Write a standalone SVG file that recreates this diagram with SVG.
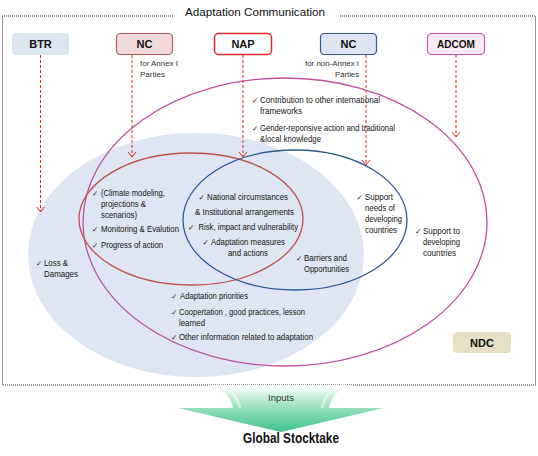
<svg xmlns="http://www.w3.org/2000/svg" width="538" height="456" viewBox="0 0 538 456">
<style>
.t{font-family:"Liberation Sans",Arial,sans-serif;font-size:9px;fill:#151515}
.s{font-family:"Liberation Sans",Arial,sans-serif;font-size:8px;fill:#333}
.ck{font-family:"DejaVu Sans",sans-serif;font-size:7.5px;fill:#222}
.lb{font-family:"Liberation Sans",Arial,sans-serif;font-size:11px;font-weight:bold;fill:#111;text-anchor:middle}
.dash{fill:none;stroke:#e3262b;stroke-width:1;stroke-dasharray:3 2;marker-end:url(#ah)}
</style>
<defs>
<marker id="ah" markerUnits="userSpaceOnUse" markerWidth="10" markerHeight="10" refX="5" refY="0" viewBox="-1 -5 7 10" orient="auto">
<path d="M0,-4 L5,0 L0,4" fill="none" stroke="#e3262b" stroke-width="1"/>
</marker>
<linearGradient id="gr" x1="0" y1="385" x2="0" y2="432" gradientUnits="userSpaceOnUse">
<stop offset="0" stop-color="#ffffff"/>
<stop offset="0.45" stop-color="#9fe0c0"/>
<stop offset="1" stop-color="#3cc389"/>
</linearGradient>
</defs>
<rect width="538" height="456" fill="#fff"/>

<g id="frame">
<path d="M173,16 L2.5,16 L2.5,385 L535.5,385 L535.5,16 L340,16" fill="none" stroke="#333" stroke-width="1" stroke-dasharray="1 1"/>
<text x="185" y="16" style="font-family:'Liberation Sans',Arial,sans-serif;font-size:11.5px;fill:#111" textLength="140" lengthAdjust="spacingAndGlyphs">Adaptation Communication</text>
</g>

<g id="regions">
<ellipse id="adaptation-area" cx="196" cy="255" rx="168" ry="122" fill="#dde6f2"/>
<ellipse id="ndc-ellipse" cx="285" cy="222" rx="202" ry="144" fill="none" stroke="#c0509b" stroke-width="1.3"/>
<ellipse id="nc1-ellipse" cx="191" cy="219" rx="112" ry="66" fill="none" stroke="#c0504d" stroke-width="1.3"/>
<ellipse id="nc2-ellipse" cx="295" cy="220" rx="112" ry="70" fill="none" stroke="#2e5a94" stroke-width="1.3"/>
</g>

<g id="connectors">
<path class="dash" d="M40.5,55 L40.5,212"/>
<path class="dash" d="M132,55 L132,157"/>
<path class="dash" d="M243,55 L243,157"/>
<path class="dash" d="M366,55 L366,165"/>
<path class="dash" d="M456,55 L456,137"/>
</g>

<g id="btr">
<rect x="12" y="33" width="57" height="22" rx="4" fill="#dce6f2"/>
<text class="lb" x="40.5" y="48">BTR</text>
</g>
<g id="nc-annex1">
<rect x="116.5" y="33.5" width="56" height="21" rx="4" fill="#f2dcdb" stroke="#b65a57" stroke-width="1.2"/>
<text class="lb" x="144.5" y="48">NC</text>
<text class="s" x="140" y="66" textLength="38" lengthAdjust="spacingAndGlyphs">for Annex I</text>
<text class="s" x="140" y="77" textLength="25" lengthAdjust="spacingAndGlyphs">Parties</text>
</g>
<g id="nap">
<rect x="214.5" y="33.5" width="57" height="21" rx="4" fill="#fff" stroke="#e0282a" stroke-width="1.5"/>
<text class="lb" x="243" y="48">NAP</text>
</g>
<g id="nc-nonannex1">
<rect x="320.5" y="33.5" width="56" height="21" rx="4" fill="#dce6f2" stroke="#2e5a94" stroke-width="1.2"/>
<text class="lb" x="348.5" y="48">NC</text>
<text class="s" x="359" y="66" text-anchor="end" textLength="54" lengthAdjust="spacingAndGlyphs">for non-Annex I</text>
<text class="s" x="359" y="77" text-anchor="end" textLength="24" lengthAdjust="spacingAndGlyphs">Parties</text>
</g>
<g id="adcom">
<rect x="427.5" y="33.5" width="57" height="21" rx="4" fill="#fbeaf6" stroke="#c35aa5" stroke-width="1.2"/>
<text class="lb" x="456" y="48" textLength="38" lengthAdjust="spacingAndGlyphs">ADCOM</text>
</g>
<g id="ndc">
<rect x="453" y="332" width="58" height="21" rx="4" fill="#e6dfc6"/>
<text class="lb" x="482" y="347">NDC</text>
</g>

<g id="ndc-items">
<text class="ck" x="252" y="103">✓</text>
<text class="t" x="260" y="103" textLength="120" lengthAdjust="spacingAndGlyphs">Contribution to other international</text>
<text class="t" x="260" y="114" textLength="42" lengthAdjust="spacingAndGlyphs">frameworks</text>
<text class="ck" x="252" y="131">✓</text>
<text class="t" x="260" y="131" textLength="135" lengthAdjust="spacingAndGlyphs">Gender-reponsive action and traditional</text>
<text class="t" x="260" y="142" textLength="61" lengthAdjust="spacingAndGlyphs">&amp;local knowledge</text>
<text class="ck" x="415" y="234">✓</text>
<text class="t" x="423" y="234" textLength="37" lengthAdjust="spacingAndGlyphs">Support to</text>
<text class="t" x="423" y="245" textLength="37" lengthAdjust="spacingAndGlyphs">developing</text>
<text class="t" x="423" y="256" textLength="33" lengthAdjust="spacingAndGlyphs">countries</text>
</g>
<g id="btr-items">
<text class="ck" x="36" y="266">✓</text>
<text class="t" x="44" y="266" textLength="24" lengthAdjust="spacingAndGlyphs">Loss &amp;</text>
<text class="t" x="44" y="277" textLength="34" lengthAdjust="spacingAndGlyphs">Damages</text>
</g>
<g id="nc1-items">
<text class="ck" x="92" y="196">✓</text>
<text class="t" x="101" y="196" textLength="64" lengthAdjust="spacingAndGlyphs">(Climate modeling,</text>
<text class="t" x="101" y="207" textLength="45" lengthAdjust="spacingAndGlyphs">projections &amp;</text>
<text class="t" x="101" y="218" textLength="36" lengthAdjust="spacingAndGlyphs">scenarios)</text>
<text class="ck" x="92" y="232">✓</text>
<text class="t" x="101" y="232" style="font-size:8.2px" textLength="78" lengthAdjust="spacingAndGlyphs">Monitoring &amp; Evalution</text>
<text class="ck" x="92" y="248">✓</text>
<text class="t" x="101" y="248" textLength="62" lengthAdjust="spacingAndGlyphs">Progress of action</text>
</g>
<g id="nap-items">
<text class="ck" x="198.5" y="200">✓</text>
<text class="t" x="207" y="200" textLength="81" lengthAdjust="spacingAndGlyphs">National circumstances</text>
<text class="t" x="195" y="215" textLength="99" lengthAdjust="spacingAndGlyphs">&amp; Institutional arrangements</text>
<text class="t" x="188" y="230"><tspan class="ck">✓</tspan><tspan x="198.5" textLength="99.5" lengthAdjust="spacingAndGlyphs">Risk, impact and vulnerability</tspan></text>
<text class="ck" x="202.5" y="245">✓</text>
<text class="t" x="211" y="245" textLength="74" lengthAdjust="spacingAndGlyphs">Adaptation measures</text>
<text class="t" x="228" y="256" textLength="40" lengthAdjust="spacingAndGlyphs">and actions</text>
</g>
<g id="nc2-items">
<text class="ck" x="356.5" y="200">✓</text>
<text class="t" x="365" y="200" textLength="28" lengthAdjust="spacingAndGlyphs">Support</text>
<text class="t" x="365" y="211" textLength="30" lengthAdjust="spacingAndGlyphs">needs of</text>
<text class="t" x="365" y="222" textLength="37" lengthAdjust="spacingAndGlyphs">developing</text>
<text class="t" x="365" y="233" textLength="32" lengthAdjust="spacingAndGlyphs">countries</text>
<text class="ck" x="296" y="261">✓</text>
<text class="t" x="304" y="261" textLength="43" lengthAdjust="spacingAndGlyphs">Barriers and</text>
<text class="t" x="304" y="272" textLength="45" lengthAdjust="spacingAndGlyphs">Opportunities</text>
</g>
<g id="common-items">
<text class="ck" x="171" y="299">✓</text>
<text class="t" x="180" y="299" textLength="68" lengthAdjust="spacingAndGlyphs">Adaptation priorities</text>
<text class="ck" x="171" y="315">✓</text>
<text class="t" x="179" y="315" textLength="126" lengthAdjust="spacingAndGlyphs">Coopertation , good practices, lesson</text>
<text class="t" x="179" y="326" textLength="26" lengthAdjust="spacingAndGlyphs">learned</text>
<text class="ck" x="171" y="340">✓</text>
<text class="t" x="179" y="340" textLength="134" lengthAdjust="spacingAndGlyphs">Other information related to adaptation</text>
</g>

<g id="global-stocktake">
<path d="M207,385 Q229,388 233,408 L178,408 L281,432 L384,408 L329,408 Q333,388 355,385 Z" fill="url(#gr)"/>
<path d="M218,385 Q236,390 240,408" fill="none" stroke="#ffffff" stroke-opacity="0.45" stroke-width="3"/>
<path d="M344,385 Q326,390 322,408" fill="none" stroke="#ffffff" stroke-opacity="0.45" stroke-width="3"/>
<text x="281" y="401" text-anchor="middle" style="font-family:'Liberation Sans',Arial,sans-serif;font-size:9.5px;fill:#333">Inputs</text>
<text x="291" y="443" text-anchor="middle" textLength="96" lengthAdjust="spacingAndGlyphs" style="font-family:'Liberation Sans',Arial,sans-serif;font-size:15px;font-weight:bold;fill:#111">Global Stocktake</text>
</g>
</svg>
